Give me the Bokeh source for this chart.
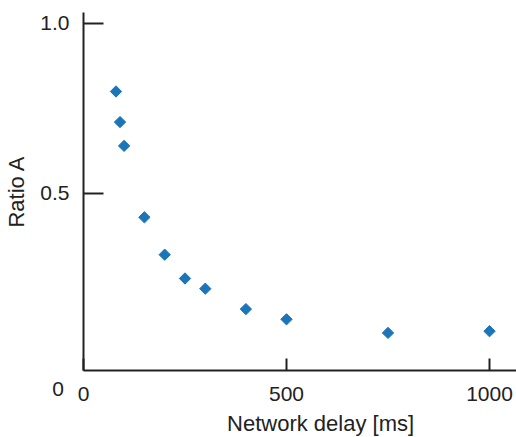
from bokeh.plotting import figure
from bokeh.models import Range1d, FixedTicker, Label
from bokeh.embed import file_html
from bokeh.resources import INLINE
from math import pi

# Data
delay_ms = [80, 90, 100, 150, 200, 250, 300, 400, 500, 750, 1000]
ratio_a = [0.80, 0.71, 0.64, 0.43, 0.32, 0.25, 0.22, 0.16, 0.13, 0.09, 0.095]

x_ticks = [0, 500, 1000]
x_tick_labels = ["0", "500", "1000"]
y_ticks = [0.5, 1.0]
y_tick_labels = ["0.5", "1.0"]
y_origin_label = "0"
x_title = "Network delay [ms]"
y_title = "Ratio A"

FONT = "Liberation Sans"
INK = "#222222"
BLUE = "#1b75b8"

# view window (the plot frame covers the whole canvas; axes sit at fixed spots)
X_VIEW = (-204.4, 1066.5)
Y_VIEW = (-0.2176, 1.0676)
Y_AXIS_SPAN = (-0.0206, 1.0324)
X_AXIS_AT = -0.0206

p = figure(width=516, height=437, output_backend="svg", toolbar_location=None,
           x_range=Range1d(*X_VIEW), y_range=Range1d(*Y_VIEW),
           min_border=0, min_border_left=0, min_border_right=0,
           min_border_top=0, min_border_bottom=0)
p.outline_line_color = None
p.xgrid.visible = False
p.ygrid.visible = False
p.background_fill_color = "white"
p.border_fill_color = "white"

p.scatter(delay_ms, ratio_a, marker="square", angle=pi / 4, size=8,
          fill_color=BLUE, line_color=BLUE)

for ax in (p.xaxis[0], p.yaxis[0]):
    ax.axis_line_width = 2
    ax.axis_line_color = INK
    ax.major_tick_line_width = 2
    ax.major_tick_line_color = INK
    ax.minor_tick_line_color = None
    ax.major_tick_out = 0
    ax.major_label_text_font = FONT
    ax.major_label_text_font_size = "21px"
    ax.major_label_text_color = INK
    ax.axis_label_text_font = FONT
    ax.axis_label_text_font_size = "22px"
    ax.axis_label_text_font_style = "normal"
    ax.axis_label_text_color = INK

xa = p.xaxis[0]
xa.fixed_location = X_AXIS_AT
xa.bounds = (0, X_VIEW[1])
xa.ticker = FixedTicker(ticks=x_ticks)
xa.major_label_overrides = dict(zip(x_ticks, x_tick_labels))
xa.major_tick_in = 12
xa.major_label_standoff = 16

ya = p.yaxis[0]
ya.fixed_location = 0
ya.bounds = Y_AXIS_SPAN
ya.ticker = FixedTicker(ticks=y_ticks)
ya.major_label_overrides = dict(zip(y_ticks, y_tick_labels))
ya.major_tick_in = 20
ya.major_label_standoff = 14
ya.axis_label = y_title
ya.axis_label_standoff = 8

p.add_layout(Label(x=0, y=0, x_offset=-25.5, y_offset=-25.5, text=y_origin_label,
                   text_align="center", text_baseline="middle",
                   text_font=FONT, text_font_size="21px", text_color=INK))
p.add_layout(Label(x=584, y=0, x_offset=0, y_offset=-60, text=x_title,
                   text_align="center", text_baseline="middle",
                   text_font=FONT, text_font_size="22px", text_color=INK))

open("out.html", "w").write(file_html(p, INLINE))
